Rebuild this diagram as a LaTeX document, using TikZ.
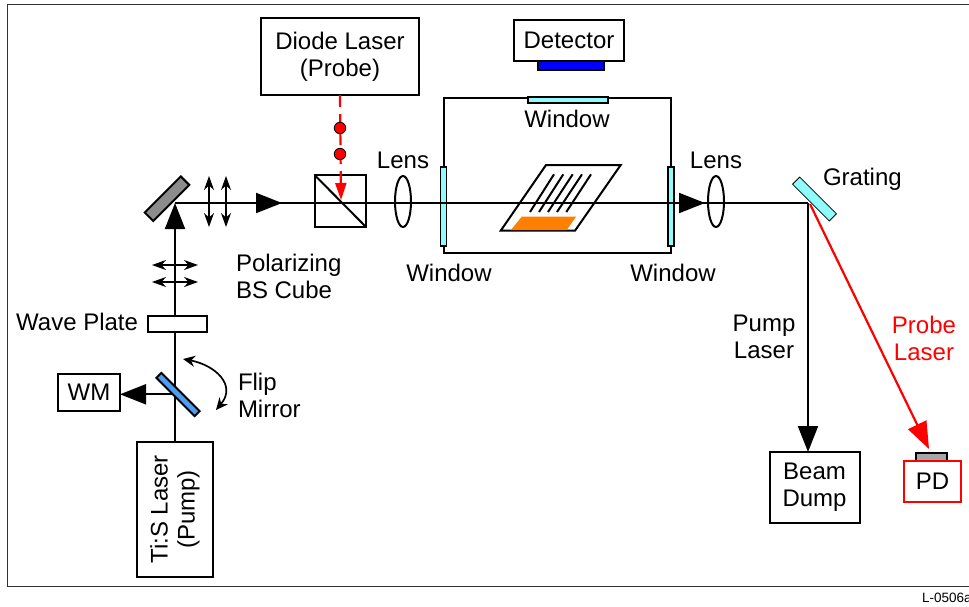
\documentclass[tikz,border=0pt]{standalone}
\usepackage{fontspec}
\setmainfont{Liberation Sans}
\usetikzlibrary{arrows.meta,shapes.geometric}
\definecolor{windowcyan}{HTML}{8FFCFC}
\definecolor{flipblue}{HTML}{4F9BF0}
\definecolor{sampleorange}{HTML}{FF8000}
\definecolor{mirrorgray}{HTML}{8C8C8C}
\begin{document}
\begin{tikzpicture}[x=1pt, y=-1pt, font=\fontsize{24}{27}\selectfont, line width=2pt]
  \tikzset{
    box node/.style={draw,fill=white,rectangle,inner sep=0pt,outer sep=0pt,align=center},
    optic node/.style={draw,rectangle,inner sep=0pt,outer sep=0pt},
    window node/.style={optic node,fill=windowcyan,line width=1.6pt},
    label node/.style={inner sep=0pt,outer sep=0pt,align=center},
    lens node/.style={draw,ellipse,inner sep=0pt,outer sep=0pt,minimum width=16pt,minimum height=51pt},
    red dot/.style={circle,draw,fill=red,line width=0.8pt,inner sep=0pt,minimum size=11.5pt},
    big tip/.style={-{Triangle[length=26pt,width=20pt]}},
    pol tip/.style={line width=1.6pt,{Stealth[length=14pt,width=10pt]}-{Stealth[length=14pt,width=10pt]}},
    flip tip/.style={line width=1.7pt,{Stealth[length=12pt,width=11pt]}-{Stealth[length=12pt,width=11pt]}},
  }
  \useasboundingbox (0,0) rectangle (969,606);

  % Outer frame, open on the right
  \draw[line width=1pt, black!80] (969,4) -- (7,4) -- (7,586) -- (969,586);

  % Chamber with its three windows
  \draw (443.5,98) rectangle (671,253);
  \node[window node, minimum width=80pt, minimum height=5.5pt] (wintop) at (568,100) {};
  \node[window node, minimum width=6pt, minimum height=79pt] (winleft) at (443.5,206.5) {};
  \node[window node, minimum width=6pt, minimum height=79pt] (winright) at (671,206.5) {};

  % Sample with orange pad and five stripes
  \draw[fill=white] (546,165) -- (620.7,165) -- (575,230.7) -- (500.7,230.7) -- cycle;
  \fill[sampleorange] (521.7,216.7) -- (576,216.7) -- (566.7,230) -- (511,230) -- cycle;
  \foreach \xa/\xb in {554/530, 563.3/539, 572.7/548, 582/557, 591/566.3}
    \draw (\xa,174.3) -- (\xb,212);

  % Lenses and cube
  \node[lens node] (lensa) at (403,201.5) {};
  \node[lens node] (lensb) at (716,201.5) {};
  \node[optic node, minimum width=51pt, minimum height=51.5pt] (cube) at (340.5,201.2) {};
  \draw (cube.north west) -- (cube.south east);

  % Points on the beam path
  \coordinate (bend) at (175,203);
  \coordinate (arrowa) at (282,203);
  \coordinate (arrowb) at (705,203);
  \coordinate (split) at (808,203);
  \coordinate (splitr) at (810,204);
  \coordinate (cubehit) at (341,200);
  \coordinate (dumptip) at (808,452);
  \coordinate (pdtip) at (929,449);
  \coordinate (wmtip) at (120,394.3);
  \coordinate (flippt) at (175,394.3);

  % Boxes
  \node[box node, minimum width=135pt, minimum height=76pt, rotate=90] (tis) at (175,509.5) {Ti:S Laser\\(Pump)};
  \node[box node, minimum width=158pt, minimum height=77pt] (diode) at (340,56.5) {Diode Laser\\(Probe)};
  \node[box node, minimum width=62pt, minimum height=37pt] (wm) at (89,392.5) {WM};
  \node[box node, minimum width=90pt, minimum height=71pt] (dump) at (814.5,487.5) {Beam\\Dump};

  % Beams
  \draw[big tip] (tis.east) -- (bend);
  \draw (bend) -- (split);
  \draw[big tip] (bend) -- (arrowa);
  \draw[big tip] (bend) -- (arrowb);
  \draw[big tip] (split) -- (dumptip);
  \draw[big tip] (flippt) -- (wmtip);
  \draw[red, line width=2.2pt, -{Triangle[length=27pt,width=20pt]}] (splitr) -- (pdtip);

  % Probe coming down into the cube
  \draw[red, line width=2.2pt, dash pattern=on 12pt off 7pt, -{Triangle[length=17pt,width=11pt,sep=0pt]}] (diode.south) -- (cubehit);
  \node[red dot] (dota) at (340,128) {};
  \node[red dot] (dotb) at (340,154) {};

  % Optics sitting on top of the beam
  \node[box node, minimum width=59pt, minimum height=16pt] (plate) at (177.5,324) {};
  \node[optic node, fill=mirrorgray, minimum width=51pt, minimum height=12pt, rotate=45] (mirror) at (167,198.7) {};
  \node[optic node, fill=flipblue, minimum width=54pt, minimum height=7pt, rotate=-45] (flip) at (178,394.5) {};
  \node[optic node, fill=windowcyan, line width=0.8pt, minimum width=52pt, minimum height=10pt, rotate=-45] (grating) at (814.5,199) {};

  % Polarization marks
  \coordinate (pola) at (209,176);
  \coordinate (polb) at (209,227);
  \coordinate (polc) at (226,176);
  \coordinate (pold) at (226,227);
  \coordinate (pole) at (152,265);
  \coordinate (polf) at (198,265);
  \coordinate (polg) at (152,282);
  \coordinate (polh) at (198,282);
  \draw[pol tip] (pola) -- (polb);
  \draw[pol tip] (polc) -- (pold);
  \draw[pol tip] (pole) -- (polf);
  \draw[pol tip] (polg) -- (polh);

  % Flip mirror swing
  \coordinate (swinga) at (183,359);
  \coordinate (swingb) at (216,410);
  \draw[flip tip] (swinga) .. controls (215,365) and (237,385) .. (swingb);

  % Detector and photodiode
  \node[box node, minimum width=110pt, minimum height=41pt] (detector) at (569,40.5) {Detector};
  \node[optic node, fill=blue, minimum width=66pt, minimum height=9pt] (detstrip) at (571,65.5) {};
  \node[optic node, fill=black!35, minimum width=31pt, minimum height=8pt] (pdcap) at (931.5,457) {};
  \node[box node, draw=red, minimum width=57pt, minimum height=41pt] (pd) at (932.5,481.5) {PD};

  % Labels
  \node[label node] (lbllensa) at (403,160) {Lens};
  \node[label node] (lbllensb) at (716,160) {Lens};
  \node[label node] (lblwina) at (567,119) {Window};
  \node[label node] (lblwinb) at (449,273) {Window};
  \node[label node] (lblwinc) at (673,273) {Window};
  \node[label node, anchor=west, align=left] (lblcube) at (236,276) {Polarizing\\BS Cube};
  \node[label node, anchor=east] (lblplate) at (138,322) {Wave Plate};
  \node[label node, anchor=west, align=left] (lblflip) at (238,395.5) {Flip\\Mirror};
  \node[label node, anchor=west] (lblgrating) at (823,179.5) {Grating};
  \node[label node] (lblpump) at (764,336.5) {Pump\\Laser};
  \node[label node, red] (lblprobe) at (924,338.5) {Probe\\Laser};
  \node[label node, anchor=west, font=\fontsize{13.5}{15}\selectfont] (lblcode) at (922,598) {L-0506a};
\end{tikzpicture}
\end{document}
